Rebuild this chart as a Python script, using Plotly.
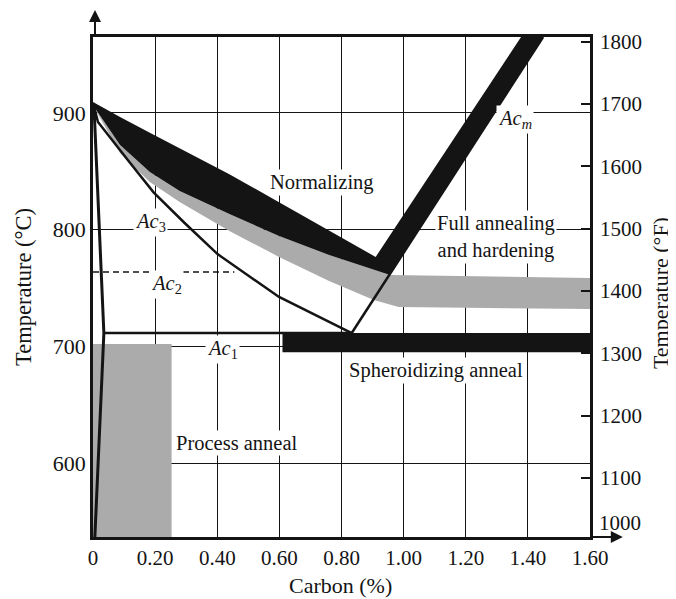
import plotly.graph_objects as go

# ---------------- data ----------------
carbon_ticks = [0, 0.2, 0.4, 0.6, 0.8, 1.0, 1.2, 1.4, 1.6]
carbon_tick_labels = ["0", "0.20", "0.40", "0.60", "0.80", "1.00", "1.20", "1.40", "1.60"]
celsius_ticks = [600, 700, 800, 900]
fahrenheit_ticks = [1100, 1200, 1300, 1400, 1500, 1600, 1700, 1800]

# Normalizing band (black)
norm_upper_c = [0.0, 0.087, 0.183, 0.279, 0.439, 0.599, 0.760, 0.910, 1.378]
norm_upper_t = [909.4, 896.5, 883.0, 869.5, 847.5, 823.5, 799.5, 776.6, 965.1]
norm_right_c = [1.449, 0.956]
norm_right_t = [965.1, 761.1]
norm_lower_c = [0.760, 0.599, 0.439, 0.279, 0.183, 0.087, 0.006]
norm_lower_t = [778.3, 794.6, 813.4, 833.2, 849.4, 872.6, 904.3]

# Full annealing and hardening band (grey)
full_upper_c = [0.006, 0.087, 0.183, 0.279, 0.439, 0.599, 0.760, 0.956, 1.6]
full_upper_t = [904.3, 872.6, 849.4, 833.2, 813.4, 794.6, 778.3, 761.1, 758.6]
full_lower_c = [1.6, 0.984, 0.904, 0.760, 0.599, 0.439, 0.279, 0.183, 0.087, 0.010]
full_lower_t = [732.0, 733.7, 739.7, 756.0, 776.6, 798.9, 823.7, 840.9, 865.7, 901.7]

# Spheroidizing band (black)
sph_c = [0.61, 1.6]
sph_t = [695.0, 711.4]

# Process anneal region (grey)
proc_c = [0.0, 0.253]
proc_t = [536.6, 702.0]

# Critical lines
ac3_c = [0.0, 0.016, 0.112, 0.195, 0.295, 0.401, 0.599, 0.801, 0.833]
ac3_t = [908.6, 892.3, 859.7, 832.0, 805.7, 779.0, 742.3, 715.7, 711.4]
ac1_c = [0.035, 0.833]
ac1_t = [711.4, 711.4]
acm_c = [0.833, 1.449]
acm_t = [711.4, 965.1]
ac2_c = [0.0, 0.455]
ac2_t = [763.7, 763.7]
ferrite_c = [0.003, 0.035, 0.006]
ferrite_t = [907.0, 711.4, 536.6]

X_RANGE = [0, 1.6]
C_RANGE = [536.6, 965.1]
F_RANGE = [1005.0, 1807.5]

BLACK = "#141414"
GREY = "#ababab"
FONT = "Liberation Serif"

fig = go.Figure()

def poly(xs, ys, color):
    fig.add_trace(go.Scatter(x=xs, y=ys, fill="toself", fillcolor=color,
                             mode="lines", line=dict(width=0, color=color),
                             hoverinfo="skip", showlegend=False))

# process anneal
poly([proc_c[0], proc_c[1], proc_c[1], proc_c[0]],
     [proc_t[0], proc_t[0], proc_t[1], proc_t[1]], GREY)
# full annealing band
poly(full_upper_c + full_lower_c, full_upper_t + full_lower_t, GREY)

def line(xs, ys, width, dash="solid"):
    fig.add_trace(go.Scatter(x=xs, y=ys, mode="lines",
                             line=dict(color=BLACK, width=width, dash=dash),
                             hoverinfo="skip", showlegend=False))

line(acm_c, acm_t, 2.5)
# normalizing band
poly(norm_upper_c + norm_right_c + norm_lower_c,
     norm_upper_t + norm_right_t + norm_lower_t, BLACK)
# spheroidizing band
poly([sph_c[0], sph_c[1], sph_c[1], sph_c[0]],
     [sph_t[0], sph_t[0], sph_t[1], sph_t[1]], BLACK)

line(ac3_c, ac3_t, 2.5)
line(ac1_c, ac1_t, 2.5)
line(ac2_c, ac2_t, 1.6, dash="6px,4px")
line(ferrite_c, ferrite_t, 3)

# invisible trace for right axis
fig.add_trace(go.Scatter(x=[0.8], y=[1400], yaxis="y2", mode="markers",
                         marker=dict(opacity=0), hoverinfo="skip", showlegend=False))

def label(x, y, text, size=20.5):
    fig.add_annotation(x=x, y=y, text=text, showarrow=False,
                       font=dict(family=FONT, size=size, color=BLACK),
                       bgcolor="white", borderpad=1)

label(0.737, 840, "Normalizing")
label(0.185, 806, "<i>Ac</i><sub>3</sub>")
label(0.237, 752.6, "<i>Ac</i><sub>2</sub>")
label(0.417, 697, "<i>Ac</i><sub>1</sub>")
label(1.36, 894, "<i>Ac</i><sub><i>m</i></sub>")
label(1.298, 793.7, "Full annealing<br>and hardening")
label(1.103, 679.7, "Spheroidizing anneal")
label(0.462, 617, "Process anneal")

# arrows on axes
fig.add_annotation(xref="paper", yref="paper", x=0.004, y=1.054, ax=0, ay=27,
                   text="", showarrow=True, arrowhead=2, arrowsize=1.2,
                   arrowwidth=2, arrowcolor=BLACK, standoff=0)
fig.add_annotation(xref="paper", yref="paper", x=1.066, y=0, ax=-33, ay=0,
                   text="", showarrow=True, arrowhead=2, arrowsize=1.2,
                   arrowwidth=2, arrowcolor=BLACK, standoff=0)
# 1000 °F label (just below the axis range)
fig.add_annotation(xref="paper", yref="paper", x=1.0, y=0.028, xanchor="left",
                   yanchor="middle", xshift=7, text="1000", showarrow=False,
                   font=dict(family=FONT, size=21, color=BLACK))
# axis titles
fig.add_annotation(xref="paper", yref="paper", x=1.141, y=0.488, textangle=-90,
                   xanchor="center", yanchor="middle", text="Temperature (°F)",
                   showarrow=False, font=dict(family=FONT, size=22, color=BLACK))
fig.add_annotation(xref="paper", yref="paper", x=0.497, y=-0.096,
                   xanchor="center", yanchor="middle", text="Carbon (%)",
                   showarrow=False, font=dict(family=FONT, size=22, color=BLACK))

fig.update_layout(
    width=668, height=591,
    margin=dict(l=85, r=86, t=29, b=62),
    paper_bgcolor="white", plot_bgcolor="white",
    font=dict(family=FONT, size=20, color=BLACK),
    xaxis=dict(range=X_RANGE, tickvals=carbon_ticks, ticktext=carbon_tick_labels,
               showgrid=True, gridcolor=BLACK, gridwidth=1.3, zeroline=False,
               showline=True, linecolor=BLACK, linewidth=2.5, mirror=True,
               ticks="", automargin=False,
               tickfont=dict(size=21)),
    yaxis=dict(range=C_RANGE, tickvals=celsius_ticks,
               showgrid=True, gridcolor=BLACK, gridwidth=1.3, zeroline=False,
               showline=True, linecolor=BLACK, linewidth=2.5, mirror=True,
               ticks="", automargin=False,
               title=dict(text="Temperature (°C)", font=dict(size=22.5)),
               tickfont=dict(size=22)),
    yaxis2=dict(range=F_RANGE, tickvals=fahrenheit_ticks, overlaying="y", side="right",
                showgrid=False, zeroline=False, showline=False, automargin=False,
                ticks="inside", ticklen=9, tickwidth=1.5, tickcolor=BLACK,
                ticklabelstandoff=9,
                tickfont=dict(size=21)),
)

fig.write_html("out.html")
